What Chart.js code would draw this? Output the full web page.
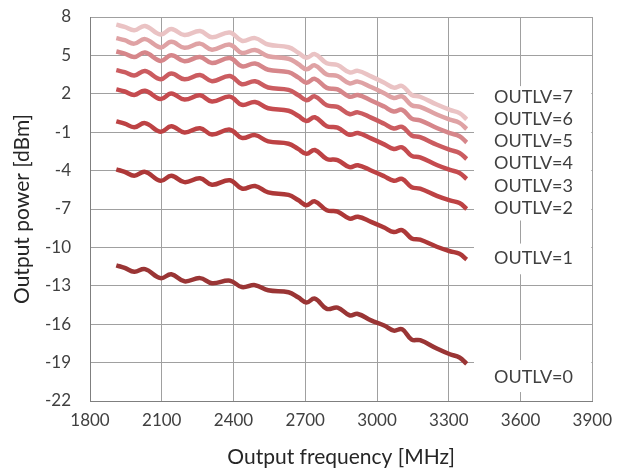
<!DOCTYPE html>
<html>
<head>
<meta charset="utf-8">
<script src="https://cdn.jsdelivr.net/npm/chart.js@4.4.1/dist/chart.umd.min.js"></script>
<style>
  html, body { margin: 0; padding: 0; background: #fff; }
  #wrap { width: 621px; height: 474px; }
</style>
</head>
<body>
<div id="wrap"><canvas id="powerChart"></canvas></div>
<script>
// Output frequency [MHz] sample points
const freqs = [1910, 1945, 1985, 2030, 2095, 2140, 2195, 2260, 2310, 2385, 2435, 2490, 2545, 2630, 2670,
               2705, 2740, 2790, 2835, 2885, 2920, 2975, 3030, 3070, 3105, 3145, 3180, 3250, 3305, 3345, 3375];

// Output power [dBm] per OUTLV setting
const outlv0 = [-11.4, -11.6, -11.9, -11.7, -12.4, -12.1, -12.65, -12.4, -12.8, -12.6, -13.1, -12.95, -13.35, -13.5, -13.9,
                -14.3, -14.0, -14.8, -14.7, -15.3, -15.2, -15.7, -16.1, -16.5, -16.4, -17.2, -17.25, -17.9, -18.35, -18.6, -19.1];
const outlv1 = [-3.9, -4.1, -4.4, -4.1, -4.8, -4.4, -4.9, -4.6, -5.1, -4.75, -5.4, -5.2, -5.7, -5.9, -6.3,
                -6.7, -6.4, -7.1, -7.2, -7.75, -7.6, -8.0, -8.45, -8.8, -8.65, -9.3, -9.4, -9.95, -10.3, -10.5, -10.95];
const outlv2 = [-0.15, -0.33, -0.61, -0.29, -0.96, -0.54, -1.02, -0.69, -1.18, -0.80, -1.44, -1.23, -1.72, -1.90, -2.30,
                -2.69, -2.39, -3.09, -3.18, -3.73, -3.58, -3.99, -4.44, -4.79, -4.65, -5.30, -5.41, -5.97, -6.33, -6.54, -7.0];
const outlv3 = [2.35, 2.18, 1.91, 2.24, 1.59, 2.02, 1.55, 1.88, 1.40, 1.78, 1.14, 1.36, 0.87, 0.68, 0.28,
                -0.13, 0.17, -0.53, -0.64, -1.20, -1.06, -1.48, -1.95, -2.31, -2.18, -2.85, -2.97, -3.56, -3.95, -4.18, -4.65];
const outlv4 = [3.85, 3.69, 3.43, 3.78, 3.14, 3.58, 3.13, 3.46, 2.99, 3.39, 2.75, 2.98, 2.49, 2.31, 1.91,
                1.50, 1.80, 1.10, 0.98, 0.42, 0.55, 0.14, -0.34, -0.71, -0.58, -1.26, -1.39, -1.98, -2.38, -2.62, -3.10];
const outlv5 = [5.30, 5.14, 4.87, 5.22, 4.57, 5.01, 4.55, 4.87, 4.40, 4.79, 4.15, 4.37, 3.88, 3.69, 3.28,
                2.87, 3.17, 2.46, 2.34, 1.77, 1.90, 1.48, 1.00, 0.62, 0.75, 0.06, -0.07, -0.67, -1.07, -1.32, -1.80];
const outlv6 = [6.35, 6.19, 5.92, 6.27, 5.62, 6.06, 5.60, 5.92, 5.45, 5.84, 5.20, 5.42, 4.93, 4.74, 4.33,
                3.92, 4.22, 3.51, 3.39, 2.82, 2.95, 2.53, 2.05, 1.67, 1.80, 1.11, 0.98, 0.38, -0.02, -0.27, -0.75];
const outlv7 = [7.40, 7.23, 6.96, 7.30, 6.63, 7.06, 6.59, 6.90, 6.42, 6.79, 6.14, 6.35, 5.85, 5.64, 5.22,
                4.81, 5.10, 4.38, 4.25, 3.67, 3.79, 3.36, 2.87, 2.48, 2.61, 1.91, 1.77, 1.16, 0.74, 0.49, 0.00];

const seriesNames = ['OUTLV=0', 'OUTLV=1', 'OUTLV=2', 'OUTLV=3', 'OUTLV=4', 'OUTLV=5', 'OUTLV=6', 'OUTLV=7'];
const seriesValues = [outlv0, outlv1, outlv2, outlv3, outlv4, outlv5, outlv6, outlv7];

const xTicks = [1800, 2100, 2400, 2700, 3000, 3300, 3600, 3900];
const yTicks = [-22, -19, -16, -13, -10, -7, -4, -1, 2, 5, 8];

const lineColors = ['#9a3535', '#ad3838', '#bd4244', '#c54b4f', '#cb5c60', '#d6868a', '#dfa2a4', '#eac3c4'];

// where the right-hand labels sit (dBm), and the white boxes behind them
const labelY = [-20.15, -10.85, -6.9, -5.25, -3.45, -1.7, 0.0, 1.73];
const labelBoxes = [[2.6, -7.9], [-9.7, -12.1], [-18.8, -21.3]];

const seriesLabels = {
    id: 'seriesLabels',
    beforeDatasetsDraw(chart) {
        const ctx = chart.ctx;
        const y = chart.scales.y;
        const left = 474, right = chart.chartArea.right - 1;
        ctx.save();
        ctx.fillStyle = '#fff';
        labelBoxes.forEach(b => {
            const t = y.getPixelForValue(b[0]), bt = y.getPixelForValue(b[1]);
            ctx.fillRect(left, t, right - left, bt - t);
        });
        ctx.fillStyle = '#404040';
        ctx.font = '18px Lato';
        ctx.textBaseline = 'middle';
        ctx.textAlign = 'left';
        seriesNames.forEach((n, i) => {
            ctx.fillText(n, 494, y.getPixelForValue(labelY[i]));
        });
        ctx.restore();
    }
};

const tickFont = { family: 'Lato', size: 17 };

new Chart(document.getElementById('powerChart'), {
    type: 'line',
    data: {
        datasets: seriesValues.map((vals, i) => ({
            label: seriesNames[i],
            data: vals.map((v, j) => ({ x: freqs[j], y: v })),
            borderColor: lineColors[i],
            borderWidth: 4.5,
            pointRadius: 0,
            tension: 0.4,
            fill: false
        }))
    },
    options: {
        animation: false,
        responsive: true,
        maintainAspectRatio: false,
        layout: { padding: { top: 0, right: 14, left: 0, bottom: 0 } },
        plugins: { legend: { display: false }, tooltip: { enabled: false } },
        scales: {
            x: {
                type: 'linear',
                min: 1800, max: 3900,
                afterBuildTicks: s => { s.ticks = xTicks.map(v => ({ value: v })); },
                afterFit: s => { s.height = 73; },
                ticks: { font: tickFont, color: '#404040', padding: 9, callback: v => String(v) },
                grid: { color: '#a0a0a0', drawTicks: false },
                border: { color: '#7f7f7f' },
                title: { display: true, text: 'Output frequency [MHz]', color: '#262626',
                         font: { family: 'Lato', size: 21 }, padding: { top: 0, bottom: 4 } }
            },
            y: {
                min: -22, max: 8,
                afterBuildTicks: s => { s.ticks = yTicks.map(v => ({ value: v })); },
                // tick padding would otherwise push the plot top down
                afterFit: s => { s.width = 90; s.paddingTop = 17; s.paddingBottom = 0; },
                ticks: { font: tickFont, color: '#404040', padding: 19, callback: v => String(v) },
                grid: { color: '#a0a0a0', drawTicks: false },
                border: { color: '#7f7f7f' },
                title: { display: true, text: 'Output power [dBm]', color: '#262626',
                         font: { family: 'Lato', size: 21 }, padding: { top: 10, bottom: 0 } }
            }
        }
    },
    plugins: [seriesLabels]
});
</script>
</body>
</html>
